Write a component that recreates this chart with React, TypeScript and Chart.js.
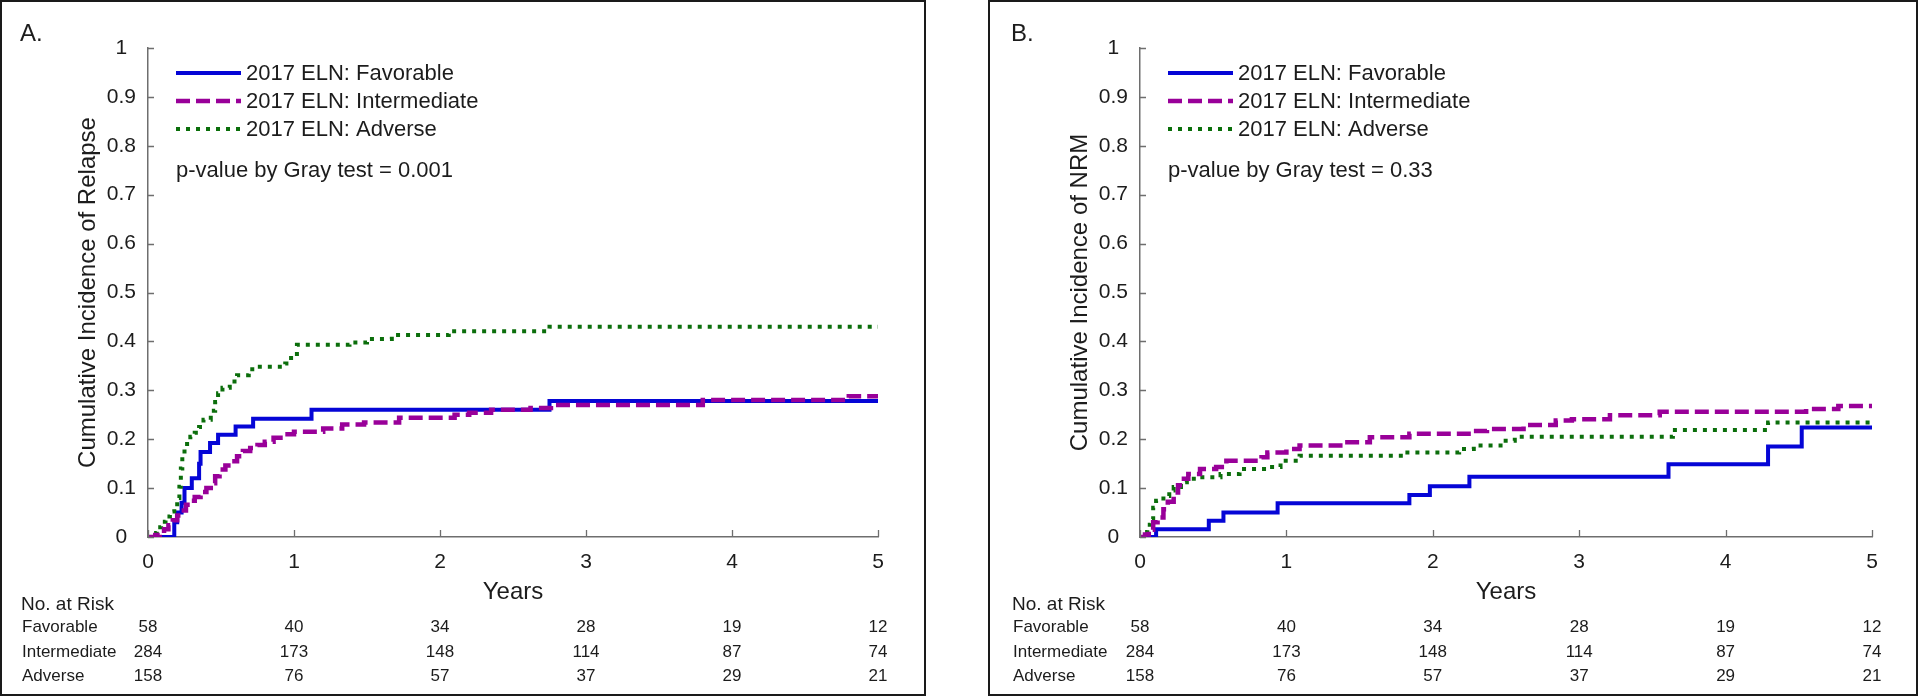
import React, { useEffect, useRef } from 'react';
import { Chart, registerables } from 'chart.js';

Chart.register(...registerables);

// ---------- data ----------
const seriesLabels = ['2017 ELN: Favorable', '2017 ELN: Intermediate', '2017 ELN: Adverse'];
const riskGroups = ['Favorable', 'Intermediate', 'Adverse'];
const riskTimes = [0, 1, 2, 3, 4, 5];
const riskFavorable = [58, 40, 34, 28, 19, 12];
const riskIntermediate = [284, 173, 148, 114, 87, 74];
const riskAdverse = [158, 76, 57, 37, 29, 21];

// Panel A: cumulative incidence of relapse  [years, incidence]
const relapseFavorable: [number, number][] = [
  [0, 0], [0.18, 0.03], [0.2, 0.05], [0.23, 0.07], [0.25, 0.1], [0.3, 0.12], [0.35, 0.15],
  [0.36, 0.174], [0.425, 0.192], [0.48, 0.209], [0.6, 0.226], [0.72, 0.242], [1.12, 0.26],
  [2.75, 0.278], [5, 0.278],
];
const relapseIntermediate: [number, number][] = [
  [0, 0], [0.05, 0.004], [0.08, 0.008], [0.11, 0.016], [0.14, 0.024], [0.17, 0.034], [0.2, 0.044],
  [0.23, 0.054], [0.26, 0.066], [0.29, 0.074], [0.32, 0.082], [0.36, 0.092], [0.4, 0.1],
  [0.43, 0.11], [0.46, 0.124], [0.49, 0.138], [0.53, 0.146], [0.57, 0.155], [0.61, 0.165],
  [0.65, 0.176], [0.7, 0.182], [0.75, 0.188], [0.8, 0.195], [0.86, 0.203], [0.93, 0.21],
  [1.0, 0.215], [1.2, 0.222], [1.33, 0.23], [1.48, 0.234], [1.72, 0.244], [2.1, 0.25],
  [2.2, 0.254], [2.35, 0.26], [2.62, 0.264], [2.76, 0.27], [3.8, 0.28], [4.8, 0.288], [5, 0.288],
];
const relapseAdverse: [number, number][] = [
  [0, 0], [0.03, 0.008], [0.06, 0.02], [0.09, 0.031], [0.12, 0.042], [0.15, 0.052], [0.18, 0.062],
  [0.2, 0.08], [0.215, 0.103], [0.225, 0.14], [0.235, 0.165], [0.25, 0.19], [0.29, 0.205],
  [0.32, 0.213], [0.35, 0.225], [0.38, 0.24], [0.43, 0.258], [0.46, 0.276], [0.48, 0.294],
  [0.51, 0.305], [0.56, 0.318], [0.61, 0.331], [0.69, 0.343], [0.75, 0.348], [0.94, 0.355],
  [0.98, 0.37], [1.02, 0.393], [1.38, 0.398], [1.5, 0.405], [1.67, 0.413], [2.06, 0.421],
  [2.75, 0.43], [5, 0.43],
];

// Panel B: cumulative incidence of NRM  [years, incidence]
const nrmFavorable: [number, number][] = [
  [0, 0], [0.11, 0.016], [0.47, 0.033], [0.57, 0.05], [0.94, 0.069], [1.84, 0.086], [1.98, 0.104],
  [2.25, 0.123], [3.61, 0.149], [4.29, 0.185], [4.52, 0.224], [5, 0.224],
];
const nrmIntermediate: [number, number][] = [
  [0, 0], [0.034, 0.005], [0.06, 0.015], [0.09, 0.03], [0.12, 0.04], [0.16, 0.057], [0.19, 0.072],
  [0.23, 0.091], [0.26, 0.106], [0.3, 0.119], [0.33, 0.129], [0.41, 0.139], [0.52, 0.143],
  [0.59, 0.156], [0.83, 0.163], [0.87, 0.173], [1.0, 0.18], [1.09, 0.187], [1.39, 0.194],
  [1.57, 0.204], [1.84, 0.211], [2.27, 0.217], [2.37, 0.221], [2.62, 0.229], [2.84, 0.238],
  [2.95, 0.241], [3.21, 0.249], [3.55, 0.256], [4.55, 0.262], [4.77, 0.268], [5, 0.268],
];
const nrmAdverse: [number, number][] = [
  [0, 0], [0.03, 0.01], [0.05, 0.025], [0.07, 0.037], [0.09, 0.06], [0.11, 0.074], [0.16, 0.084],
  [0.2, 0.095], [0.23, 0.102], [0.28, 0.112], [0.32, 0.119], [0.41, 0.122], [0.55, 0.129],
  [0.68, 0.139], [0.87, 0.143], [0.96, 0.156], [1.09, 0.166], [1.8, 0.173], [2.18, 0.18],
  [2.28, 0.187], [2.48, 0.197], [2.56, 0.205], [3.64, 0.219], [4.29, 0.234], [5, 0.234],
];

// ---------- styling / layout ----------
const FONT = "'Liberation Sans', Arial, Helvetica, sans-serif";
const TEXT = '#1c1c1c';
const AXIS = '#6e6e6e';
const H = 696;
const PLOT_TOP = 48;
const PLOT_BOTTOM = 537;

const STYLES = [
  { color: '#0505d6', width: 4, dash: [] as number[], order: 3 },
  { color: '#990099', width: 4.5, dash: [14, 6], order: 1 },
  { color: '#0b6e0b', width: 4, dash: [4, 6], order: 2 },
];

type PanelCfg = {
  left: number;
  width: number;
  plotLeft: number;
  plotRight: number;
  letter: string;
  textLeft: number;
  yTitle: string;
  pText: string;
  series: [number, number][][];
};

const panels: PanelCfg[] = [
  {
    left: 0, width: 926, plotLeft: 148, plotRight: 878, letter: 'A.', textLeft: 21,
    yTitle: 'Cumulative Incidence of Relapse', pText: 'p-value by Gray test = 0.001',
    series: [relapseFavorable, relapseIntermediate, relapseAdverse],
  },
  {
    left: 988, width: 930, plotLeft: 152, plotRight: 884, letter: 'B.', textLeft: 24,
    yTitle: 'Cumulative Incidence of NRM', pText: 'p-value by Gray test = 0.33',
    series: [nrmFavorable, nrmIntermediate, nrmAdverse],
  },
];

const riskRows = [riskFavorable, riskIntermediate, riskAdverse];

function overlayPlugin(cfg: PanelCfg) {
  return {
    id: 'overlay' + cfg.letter,
    afterDraw(chart: any) {
      const ctx: CanvasRenderingContext2D = chart.ctx;
      const { left, bottom } = chart.chartArea;
      const xs = chart.scales.x;
      const ys = chart.scales.y;
      ctx.save();
      // inward tick marks
      ctx.strokeStyle = AXIS;
      ctx.lineWidth = 1.3;
      ctx.setLineDash([]);
      ctx.beginPath();
      xs.ticks.forEach((t: any) => {
        const px = Math.round(xs.getPixelForValue(t.value)) + 0.5;
        ctx.moveTo(px, bottom);
        ctx.lineTo(px, bottom - 7);
      });
      ys.ticks.forEach((t: any) => {
        const py = Math.round(ys.getPixelForValue(t.value)) + 0.5;
        ctx.moveTo(left, py);
        ctx.lineTo(left + 6, py);
      });
      ctx.stroke();

      // legend
      const legendRows = [73, 101, 129];
      ctx.font = `22px ${FONT}`;
      ctx.textBaseline = 'middle';
      ctx.textAlign = 'left';
      chart.data.datasets.forEach((ds: any, i: number) => {
        const y = legendRows[i];
        ctx.strokeStyle = ds.borderColor;
        ctx.lineWidth = ds.borderWidth;
        ctx.setLineDash(ds.borderDash || []);
        ctx.beginPath();
        ctx.moveTo(left + 28, y);
        ctx.lineTo(left + 93, y);
        ctx.stroke();
        ctx.setLineDash([]);
        ctx.fillStyle = TEXT;
        ctx.fillText(ds.label, left + 98, y + 1);
      });
      ctx.fillText(cfg.pText, left + 28, 171);

      // panel letter
      ctx.font = `24px ${FONT}`;
      ctx.fillText(cfg.letter, cfg.textLeft - 1, 34);

      // risk table
      ctx.font = `19px ${FONT}`;
      ctx.fillText('No. at Risk', cfg.textLeft, 605);
      const rowY = [627, 652, 676];
      ctx.font = `17px ${FONT}`;
      riskGroups.forEach((g, r) => {
        ctx.textAlign = 'left';
        ctx.fillText(g, cfg.textLeft + 1, rowY[r]);
        ctx.textAlign = 'center';
        riskRows[r].forEach((n, j) => {
          ctx.fillText(String(n), xs.getPixelForValue(riskTimes[j]), rowY[r]);
        });
      });
      ctx.restore();
    },
  };
}

function Panel({ cfg }: { cfg: PanelCfg }) {
  const ref = useRef<HTMLCanvasElement>(null);
  useEffect(() => {
    const canvas = ref.current!;
    const chart = new Chart(canvas, {
      type: 'line',
      data: {
        datasets: cfg.series.map((s, i) => ({
          label: seriesLabels[i],
          data: s.map(([x, y]) => ({ x, y })),
          borderColor: STYLES[i].color,
          borderWidth: STYLES[i].width,
          borderDash: STYLES[i].dash,
          borderCapStyle: 'butt',
          borderJoinStyle: 'miter',
          stepped: true,
          pointRadius: 0,
          fill: false,
          order: STYLES[i].order,
        })) as any,
      },
      options: {
        responsive: false,
        animation: false,
        devicePixelRatio: 1,
        events: [],
        layout: { padding: { top: PLOT_TOP, left: 0, bottom: 0, right: cfg.width - cfg.plotRight } },
        plugins: { legend: { display: false }, tooltip: { enabled: false }, title: { display: false } },
        scales: {
          x: {
            type: 'linear',
            min: 0,
            max: 5,
            ticks: { stepSize: 1, padding: 13, maxRotation: 0, color: TEXT, font: { family: FONT, size: 21 } },
            grid: { display: false, drawTicks: false },
            border: { display: true, color: AXIS, width: 1.5 },
            title: {
              display: true, text: 'Years', color: TEXT,
              font: { family: FONT, size: 24 }, padding: { top: 0, bottom: 89 },
            },
            afterFit: (s: any) => { s.height = H - PLOT_BOTTOM; },
          },
          y: {
            type: 'linear',
            min: 0,
            max: 1,
            ticks: {
              stepSize: 0.1, padding: 12, crossAlign: 'center', color: TEXT, font: { family: FONT, size: 21 },
              callback: (v: number) => String(Math.round(v * 10) / 10),
            },
            grid: { display: false, drawTicks: false },
            border: { display: true, color: AXIS, width: 1.5 },
            title: {
              display: true, text: cfg.yTitle, color: TEXT,
              font: { family: FONT, size: 24 }, padding: { top: cfg.plotLeft - 60 - 14.4, bottom: 0 },
            },
            afterFit: (s: any) => { s.width = cfg.plotLeft; },
          },
        },
      } as any,
      plugins: [overlayPlugin(cfg)],
    });
    return () => chart.destroy();
  }, [cfg]);
  return (
    <>
      <canvas
        ref={ref}
        width={cfg.width}
        height={H}
        style={{ position: 'absolute', left: cfg.left, top: 0, width: cfg.width, height: H }}
      />
      <div
        style={{
          position: 'absolute', left: cfg.left, top: 0, width: cfg.width, height: H,
          border: '2px solid #1a1a1a', boxSizing: 'border-box', pointerEvents: 'none',
        }}
      />
    </>
  );
}

export default function App() {
  return (
    <div style={{ position: 'absolute', left: 0, top: 0, width: 1920, height: H, background: '#fff', overflow: 'hidden' }}>
      {panels.map((p) => (
        <Panel key={p.letter} cfg={p} />
      ))}
    </div>
  );
}
